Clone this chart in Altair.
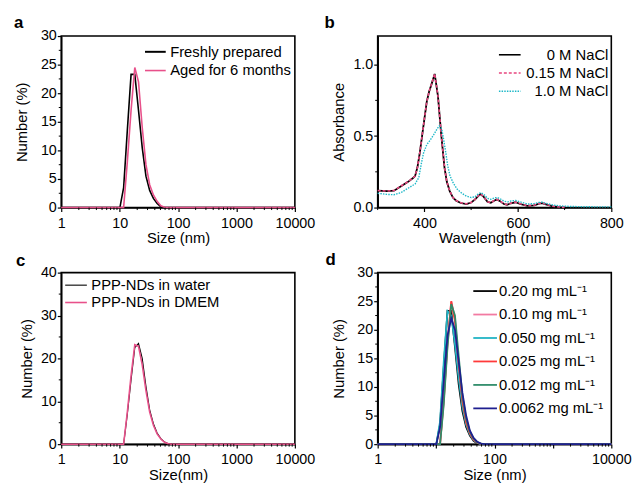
import altair as alt
import pandas as pd

FONT = "Liberation Sans"
W, H = 237, 174

# ---------------- data ----------------
# DLS size bins (nm)
BINS = [1, 10.10, 11.70, 13.54, 15.69, 18.17, 21.04, 24.36, 28.21, 32.67,
        37.84, 43.82, 50.75, 58.77, 68.06, 78.82, 10000]

# panel a
A_LABELS = ["Freshly prepared", "Aged for 6 months"]
A_FRESH = [0, 0, 3.5, 13.5, 23.3, 23.3, 17.0, 10.5, 5.5, 3.0, 1.6, 0.7, 0.15, 0, 0, 0, 0]
A_AGED = [0, 0, 0, 8.0, 17.0, 24.5, 22.0, 14.0, 7.5, 4.0, 2.2, 1.1, 0.3, 0.05, 0, 0, 0]

# panel b
B_LABELS = ["0 M NaCl", "0.15 M NaCl", "1.0 M NaCl"]
B_WL = [300, 320, 335, 350, 365, 375, 380, 385, 390, 395, 400, 405, 410, 415,
        422, 429, 436, 443, 448, 454, 461, 468, 478, 490, 500, 508, 515, 520,
        527, 535, 542, 550, 555, 562, 570, 577, 585, 595, 605, 620, 635, 645,
        652, 660, 675, 690, 703]
B_0M = [0.118, 0.115, 0.118, 0.15, 0.18, 0.205, 0.22, 0.28, 0.38, 0.50, 0.62,
        0.74, 0.81, 0.86, 0.935, 0.78, 0.51, 0.28, 0.18, 0.117, 0.07, 0.048,
        0.032, 0.025, 0.035, 0.055, 0.08, 0.094, 0.075, 0.04, 0.033, 0.05,
        0.056, 0.045, 0.025, 0.02, 0.03, 0.037, 0.025, 0.012, 0.015, 0.027,
        0.031, 0.022, 0.008, 0.003, 0.0]
B_015M = [0.119, 0.116, 0.119, 0.151, 0.181, 0.206, 0.221, 0.281, 0.381, 0.50,
          0.62, 0.74, 0.81, 0.862, 0.937, 0.781, 0.512, 0.282, 0.181, 0.118,
          0.071, 0.049, 0.033, 0.026, 0.036, 0.056, 0.081, 0.095, 0.076, 0.041,
          0.034, 0.051, 0.057, 0.046, 0.026, 0.021, 0.031, 0.038, 0.026, 0.013,
          0.016, 0.028, 0.032, 0.023, 0.009, 0.004, 0.001]
B_WL_1M = [300, 320, 335, 350, 365, 380, 388, 393, 398, 405, 412, 420, 427, 432,
           437, 441, 446, 450, 455, 462, 470, 480, 490, 500, 508, 515, 521, 528,
           535, 542, 550, 556, 563, 570, 578, 587, 595, 605, 620, 635, 645, 652,
           660, 675, 690, 710, 740, 770, 800]
B_1M = [0.10, 0.092, 0.09, 0.105, 0.135, 0.165, 0.21, 0.30, 0.38, 0.44, 0.47,
        0.51, 0.55, 0.572, 0.55, 0.48, 0.38, 0.29, 0.22, 0.17, 0.13, 0.10, 0.08,
        0.07, 0.075, 0.095, 0.105, 0.09, 0.065, 0.058, 0.068, 0.07, 0.06, 0.045,
        0.04, 0.047, 0.05, 0.04, 0.025, 0.028, 0.036, 0.038, 0.03, 0.018, 0.012,
        0.008, 0.006, 0.005, 0.005]

# panel c
C_LABELS = ["PPP-NDs in water", "PPP-NDs in DMEM"]
C_WATER = [0, 0, 0, 7.0, 15.0, 22.5, 23.5, 20.0, 13.5, 8.0, 4.8, 2.6, 1.3, 0.5, 0.1, 0, 0]
C_DMEM = [0, 0, 0, 7.5, 16.0, 23.2, 22.8, 18.5, 12.5, 7.5, 4.4, 2.4, 1.2, 0.45, 0.1, 0, 0]

# panel d
D_LABELS = ["0.20 mg mL⁻¹", "0.10 mg mL⁻¹", "0.050 mg mL⁻¹",
            "0.025 mg mL⁻¹", "0.012 mg mL⁻¹", "0.0062 mg mL⁻¹"]
D_VALUES = [
    [0, 0, 3.5, 13.5, 23.3, 23.3, 17.0, 10.5, 5.8, 3.0, 1.5, 0.6, 0.15, 0, 0, 0, 0],
    [0, 0, 0, 8.0, 18.0, 25.0, 22.0, 14.0, 7.5, 4.0, 2.0, 0.9, 0.3, 0.05, 0, 0, 0],
    [0, 0, 4.0, 14.5, 23.3, 22.5, 17.5, 11.5, 6.5, 3.4, 1.7, 0.7, 0.2, 0.03, 0, 0, 0],
    [0, 0, 0, 7.5, 17.5, 25.0, 21.5, 14.0, 7.5, 3.8, 1.9, 0.8, 0.25, 0.04, 0, 0, 0],
    [0, 0, 0, 7.0, 17.0, 24.5, 22.5, 15.5, 8.5, 4.5, 2.2, 1.0, 0.35, 0.08, 0, 0, 0],
    [0, 0, 3.0, 11.0, 19.0, 22.0, 20.0, 14.5, 9.0, 5.0, 2.4, 1.1, 0.4, 0.1, 0, 0, 0],
]
D_COLORS = ["#000000", "#f27aa2", "#1fb3c4", "#ff3a3a", "#2f8c6a", "#1f1f8f"]

PANEL_LETTERS = ["a", "b", "c", "d"]

# axis tick values
LOG_MAJOR = [1, 10, 100, 1000, 10000]
LOG_MINOR = [2, 3, 4, 5, 6, 7, 8, 9, 20, 30, 40, 50, 60, 70, 80, 90,
             200, 300, 400, 500, 600, 700, 800, 900,
             2000, 3000, 4000, 5000, 6000, 7000, 8000, 9000]

VIEW = alt.ViewBackground(stroke="black", strokeWidth=1.6, fill="white")


# ---------------- helpers ----------------
def line_layer(xs, ys, color, width, xenc, yenc, dash=None):
    df = pd.DataFrame({"x": xs, "y": ys})
    mk = dict(color=color, strokeWidth=width)
    if dash:
        mk["strokeDash"] = dash
    return alt.Chart(df).mark_line(**mk).encode(x=xenc, y=yenc)


def minor_x(vals, xenc):
    df = pd.DataFrame({"x": vals})
    return alt.Chart(df).mark_rule(color="black", strokeWidth=1).encode(
        x=xenc, y=alt.value(H), y2=alt.value(H + 2.5))


def minor_y(vals, yenc):
    df = pd.DataFrame({"y": vals})
    return alt.Chart(df).mark_rule(color="black", strokeWidth=1).encode(
        y=yenc, x=alt.value(0), x2=alt.value(-2.5))


def legend(labels, colors, widths, dashes, x1, x2, y0, dy, xt, align="left"):
    layers = []
    for i, lab in enumerate(labels):
        y = y0 + i * dy
        src = pd.DataFrame({"label": [lab]})
        mk = dict(color=colors[i], strokeWidth=widths[i])
        if dashes[i]:
            mk["strokeDash"] = dashes[i]
        layers.append(alt.Chart(src).mark_rule(**mk).encode(
            x=alt.value(x1), x2=alt.value(x2), y=alt.value(y)))
        layers.append(alt.Chart(src).mark_text(
            align=align, baseline="middle", font=FONT, fontSize=15,
            color="black").encode(x=alt.value(xt), y=alt.value(y),
                                  text="label:N"))
    return layers


def letter(t, dx, dy=-8):
    src = pd.DataFrame({"letter": [t]})
    return alt.Chart(src).mark_text(
        align="left", baseline="alphabetic", font=FONT, fontSize=17,
        fontWeight="bold", color="black").encode(
        x=alt.value(dx), y=alt.value(dy), text="letter:N")


def xlog(title, label_expr=None):
    kw = dict(values=LOG_MAJOR, format="d", title=title)
    if label_expr:
        kw["labelExpr"] = label_expr
    return alt.X("x:Q", scale=alt.Scale(type="log", domain=[1, 10000]),
                 axis=alt.Axis(**kw))


# ---------------- panel a ----------------
ya = alt.Y("y:Q", scale=alt.Scale(domain=[0, 30]),
           axis=alt.Axis(values=[0, 5, 10, 15, 20, 25, 30], title="Number (%)",
                         titlePadding=11))
xa = xlog("Size (nm)")
pa = alt.layer(
    line_layer(BINS, A_FRESH, "black", 1.6, xa, ya),
    line_layer(BINS, A_AGED, "#e8508a", 1.6, xa, ya),
    minor_x(LOG_MINOR, xa),
    minor_y([2.5, 7.5, 12.5, 17.5, 22.5, 27.5], ya),
    *legend(A_LABELS, ["black", "#e8508a"], [2, 1.6], [None, None],
            85, 106, 16, 19, 110.5),
    letter(PANEL_LETTERS[0], -48),
).properties(width=W, height=H, view=VIEW)

# ---------------- panel b ----------------
xb = alt.X("x:Q", scale=alt.Scale(domain=[300, 800]),
           axis=alt.Axis(values=[400, 600, 800], title="Wavelength (nm)"))
yb = alt.Y("y:Q", scale=alt.Scale(domain=[0, 1.2]),
           axis=alt.Axis(values=[0, 0.5, 1.0], format=".1f", title="Absorbance",
                         titlePadding=6))
pb = alt.layer(
    line_layer(B_WL, B_0M, "black", 1.8, xb, yb),
    line_layer(B_WL, B_015M, "#e8457f", 1.6, xb, yb, dash=[3, 2]),
    line_layer(B_WL_1M, B_1M, "#1fb8c8", 1.4, xb, yb, dash=[1.5, 1.2]),
    minor_x([300, 500, 700], xb),
    minor_y([0.25, 0.75], yb),
    *legend(B_LABELS, ["black", "#e8457f", "#1fb8c8"], [1.6, 1.6, 1.4],
            [None, [3, 2], [1.5, 1.2]], 123, 145, 19, 18.5, 234, align="right"),
    letter(PANEL_LETTERS[1], -54),
).properties(width=W, height=H, view=VIEW)

# ---------------- panel c ----------------
yc = alt.Y("y:Q", scale=alt.Scale(domain=[0, 40]),
           axis=alt.Axis(values=[0, 10, 20, 30, 40], title="Number (%)",
                         titlePadding=6))
xc = xlog("Size(nm)")
pc = alt.layer(
    line_layer(BINS, C_WATER, "black", 1.1, xc, yc),
    line_layer(BINS, C_DMEM, "#e8508a", 1.6, xc, yc),
    minor_x(LOG_MINOR, xc),
    minor_y([5, 15, 25, 35], yc),
    *legend(C_LABELS, ["black", "#e8508a"], [1.1, 1.6], [None, None],
            4, 26, 12.7, 17.6, 30.5),
    letter(PANEL_LETTERS[2], -46, -7),
).properties(width=W, height=H, view=VIEW)

# ---------------- panel d ----------------
yd = alt.Y("y:Q", scale=alt.Scale(domain=[0, 30]),
           axis=alt.Axis(values=[0, 5, 10, 15, 20, 25, 30], title="Number (%)",
                         titlePadding=11))
xd = xlog("Size (nm)",
          label_expr="datum.value == 10 || datum.value == 1000 ? '' : datum.label")
d_lines = [line_layer(BINS, D_VALUES[i], D_COLORS[i], 1.8, xd, yd)
           for i in range(len(D_VALUES))]
pdd = alt.layer(
    *d_lines,
    minor_x(LOG_MINOR, xd),
    minor_y([2.5, 7.5, 12.5, 17.5, 22.5, 27.5], yd),
    *legend(D_LABELS, D_COLORS, [1.8] * 6, [None] * 6,
            97, 121, 18.7, 23.8, 123),
    letter(PANEL_LETTERS[3], -53),
).properties(width=W, height=H, view=VIEW)

chart = alt.concat(pa, pb, pc, pdd, columns=2,
                   spacing={"row": 66, "column": 84}, bounds="flush").properties(
    padding={"left": 5, "top": 2, "right": 1, "bottom": 0},
    background="white",
).configure_view(stroke="black", strokeWidth=1.6).configure_axis(
    grid=False, labelFont=FONT, titleFont=FONT, labelFontSize=14.5,
    titleFontSize=15, titleFontWeight="normal", labelColor="black",
    titleColor="black", domainColor="black", domainWidth=1.6,
    tickColor="black", tickWidth=1.2, tickSize=4,
).configure_axisX(labelPadding=5, titlePadding=1, labelFlush=False).configure_axisY(
    labelPadding=1, labelFlush=False)

chart.save("out.html", embed_options={"renderer": "svg", "actions": False})
